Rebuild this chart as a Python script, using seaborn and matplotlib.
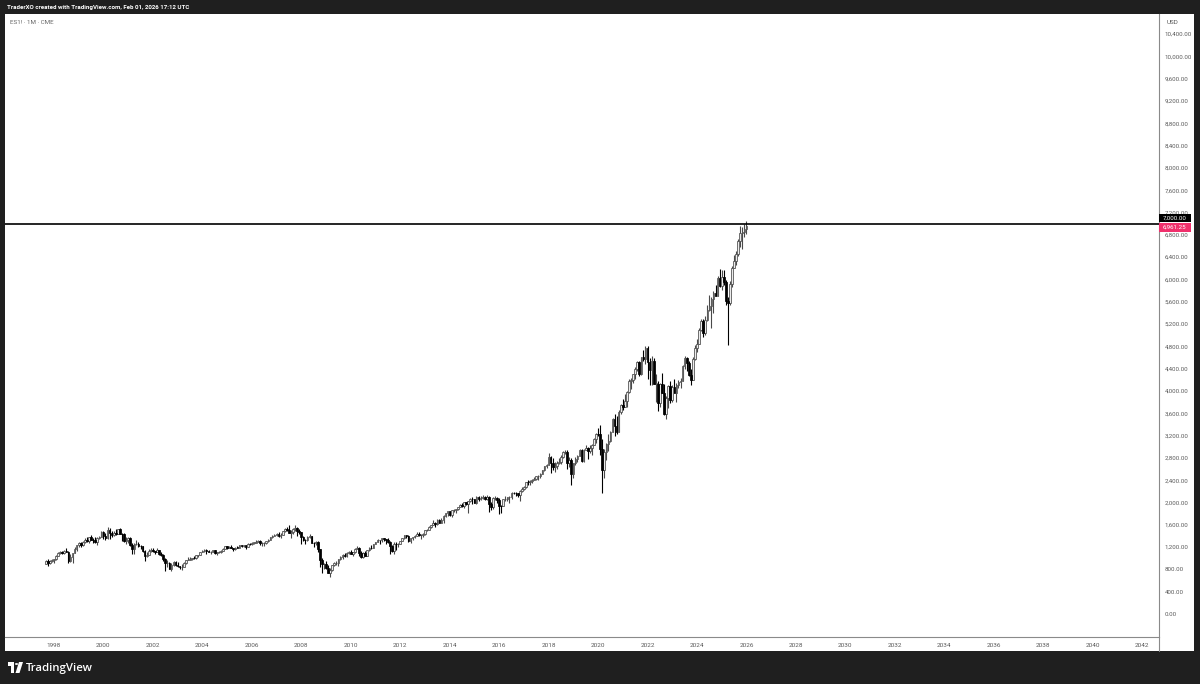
import numpy as np
import pandas as pd
import matplotlib
matplotlib.use("Agg")
import matplotlib.pyplot as plt
import seaborn as sns
from matplotlib.patches import Rectangle, Polygon, Circle
from matplotlib.lines import Line2D

# ---------------- data: ES1! monthly OHLC (approx.) ----------------
start_month = "1997-09"
first_open = 900.0

closes = [
    947, 915, 955, 970,                                                   # 1997 Sep-Dec
    980, 1049, 1102, 1112, 1091, 1134, 1121, 957, 1017, 1099, 1164, 1229,  # 1998
    1280, 1238, 1286, 1335, 1302, 1373, 1329, 1320, 1283, 1363, 1389, 1469,  # 1999
    1394, 1366, 1499, 1452, 1421, 1455, 1431, 1518, 1436, 1429, 1315, 1320,  # 2000
    1366, 1240, 1160, 1249, 1256, 1224, 1211, 1134, 1041, 1060, 1139, 1148,  # 2001
    1130, 1107, 1147, 1077, 1067, 990, 912, 916, 815, 886, 936, 880,         # 2002
    856, 841, 848, 917, 964, 975, 990, 1008, 996, 1051, 1058, 1112,          # 2003
    1131, 1145, 1126, 1107, 1121, 1141, 1102, 1104, 1115, 1130, 1174, 1212,  # 2004
    1181, 1204, 1181, 1157, 1192, 1191, 1234, 1220, 1229, 1207, 1249, 1248,  # 2005
    1280, 1281, 1295, 1311, 1270, 1270, 1277, 1304, 1336, 1378, 1401, 1418,  # 2006
    1438, 1407, 1421, 1482, 1531, 1503, 1455, 1474, 1527, 1549, 1481, 1468,  # 2007
    1379, 1331, 1323, 1386, 1400, 1280, 1267, 1283, 1166, 969, 896, 903,     # 2008
    826, 735, 798, 873, 919, 919, 987, 1021, 1057, 1036, 1096, 1115,         # 2009
    1074, 1104, 1169, 1187, 1089, 1031, 1102, 1049, 1141, 1183, 1181, 1258,  # 2010
    1286, 1327, 1326, 1364, 1345, 1321, 1292, 1219, 1131, 1253, 1247, 1258,  # 2011
    1312, 1366, 1408, 1398, 1310, 1362, 1379, 1407, 1441, 1412, 1416, 1426,  # 2012
    1498, 1515, 1569, 1598, 1631, 1606, 1686, 1633, 1682, 1757, 1806, 1848,  # 2013
    1783, 1859, 1872, 1884, 1924, 1960, 1931, 2003, 1972, 2018, 2068, 2059,  # 2014
    1995, 2105, 2068, 2086, 2107, 2063, 2104, 1972, 1920, 2079, 2080, 2044,  # 2015
    1940, 1932, 2060, 2065, 2097, 2099, 2174, 2171, 2168, 2126, 2199, 2239,  # 2016
    2279, 2364, 2363, 2384, 2412, 2423, 2470, 2472, 2519, 2575, 2648, 2674,  # 2017
    2824, 2714, 2641, 2648, 2705, 2718, 2816, 2902, 2914, 2712, 2760, 2507,  # 2018
    2704, 2784, 2834, 2946, 2752, 2942, 2980, 2926, 2977, 3038, 3141, 3231,  # 2019
    3226, 2954, 2585, 2912, 3044, 3100, 3271, 3500, 3363, 3270, 3622, 3756,  # 2020
    3714, 3811, 3973, 4181, 4204, 4298, 4395, 4523, 4308, 4605, 4567, 4766,  # 2021
    4516, 4374, 4530, 4132, 4132, 3785, 4130, 3955, 3586, 3872, 4080, 3840,  # 2022
    4077, 3970, 4109, 4169, 4180, 4450, 4589, 4508, 4288, 4194, 4568, 4770,  # 2023
    4846, 5096, 5254, 5036, 5278, 5460, 5522, 5648, 5762, 5705, 6032, 5882,  # 2024
    6041, 5955, 5612, 5569, 5912, 6205, 6339, 6460, 6688, 6840, 6849, 6900,  # 2025
    6961.25,                                                              # 2026 Jan
]

highs = [
    960, 987, 960, 985,
    992, 1050, 1110, 1130, 1130, 1145, 1190, 1125, 1070, 1100, 1195, 1245,
    1290, 1285, 1318, 1370, 1380, 1380, 1425, 1360, 1375, 1375, 1405, 1490,
    1495, 1455, 1560, 1540, 1490, 1485, 1530, 1530, 1545, 1445, 1445, 1390,
    1390, 1385, 1265, 1270, 1320, 1295, 1240, 1225, 1140, 1115, 1165, 1180,
    1180, 1135, 1175, 1150, 1110, 1075, 1000, 965, 930, 910, 950, 955,
    935, 865, 895, 925, 965, 1015, 1015, 1010, 1040, 1055, 1063, 1114,
    1155, 1160, 1165, 1150, 1125, 1145, 1145, 1110, 1130, 1140, 1185, 1218,
    1218, 1212, 1230, 1192, 1200, 1220, 1245, 1245, 1245, 1235, 1275, 1280,
    1300, 1300, 1320, 1330, 1335, 1295, 1295, 1310, 1345, 1390, 1410, 1438,
    1450, 1475, 1445, 1495, 1540, 1555, 1590, 1510, 1540, 1590, 1555, 1530,
    1475, 1400, 1345, 1395, 1440, 1405, 1295, 1315, 1305, 1170, 1010, 920,
    945, 875, 830, 880, 930, 955, 995, 1040, 1080, 1100, 1110, 1130,
    1150, 1110, 1175, 1220, 1205, 1130, 1110, 1130, 1150, 1195, 1230, 1262,
    1300, 1345, 1335, 1365, 1372, 1345, 1355, 1305, 1230, 1290, 1290, 1270,
    1315, 1370, 1420, 1420, 1415, 1365, 1390, 1425, 1470, 1465, 1435, 1445,
    1505, 1530, 1570, 1600, 1690, 1650, 1695, 1710, 1730, 1770, 1815, 1850,
    1850, 1865, 1885, 1890, 1925, 1965, 1990, 2005, 2015, 2020, 2075, 2090,
    2065, 2115, 2115, 2125, 2135, 2125, 2130, 2110, 2015, 2090, 2115, 2105,
    2080, 1960, 2060, 2110, 2100, 2120, 2180, 2190, 2185, 2170, 2215, 2280,
    2300, 2370, 2400, 2395, 2420, 2450, 2480, 2490, 2520, 2580, 2655, 2695,
    2880, 2840, 2800, 2720, 2745, 2795, 2850, 2920, 2945, 2950, 2820, 2800,
    2715, 2820, 2860, 2960, 2960, 2965, 3030, 3000, 3030, 3050, 3160, 3250,
    3340, 3395, 3130, 2955, 3070, 3230, 3280, 3510, 3590, 3545, 3660, 3760,
    3860, 3950, 3995, 4215, 4240, 4300, 4425, 4535, 4545, 4610, 4740, 4810,
    4810, 4595, 4635, 4590, 4300, 4180, 4140, 4325, 4120, 3910, 4110, 4180,
    4100, 4210, 4140, 4190, 4230, 4460, 4635, 4610, 4540, 4400, 4600, 4820,
    4930, 5120, 5290, 5290, 5340, 5540, 5720, 5680, 5800, 5900, 6060, 6180,
    6160, 6165, 5990, 5690, 5970, 6240, 6430, 6510, 6730, 6950, 6940, 6990,
    7043,
]

lows = [
    900, 855, 900, 925,
    912, 970, 1040, 1076, 1074, 1074, 1114, 923, 940, 923, 1092, 1130,
    1205, 1200, 1225, 1280, 1290, 1275, 1325, 1270, 1265, 1235, 1340, 1385,
    1345, 1330, 1340, 1345, 1380, 1405, 1415, 1430, 1430, 1305, 1300, 1260,
    1280, 1225, 1080, 1085, 1240, 1205, 1170, 1120, 945, 1030, 1055, 1120,
    1105, 1075, 1105, 1065, 1045, 945, 770, 835, 810, 765, 870, 870,
    840, 805, 785, 845, 900, 960, 960, 960, 990, 995, 1030, 1050,
    1110, 1120, 1085, 1105, 1075, 1115, 1080, 1060, 1100, 1090, 1128, 1170,
    1165, 1180, 1175, 1135, 1145, 1185, 1185, 1200, 1200, 1170, 1205, 1245,
    1245, 1260, 1275, 1290, 1245, 1220, 1225, 1260, 1295, 1330, 1365, 1400,
    1400, 1380, 1365, 1415, 1475, 1490, 1450, 1370, 1440, 1490, 1405, 1430,
    1260, 1310, 1255, 1310, 1370, 1275, 1195, 1245, 1105, 835, 740, 815,
    800, 730, 666, 780, 865, 885, 860, 975, 990, 1020, 1030, 1085,
    1070, 1045, 1100, 1165, 1040, 1010, 1010, 1040, 1040, 1130, 1170, 1175,
    1250, 1285, 1250, 1295, 1315, 1260, 1280, 1075, 1115, 1075, 1155, 1200,
    1255, 1305, 1345, 1355, 1290, 1265, 1325, 1365, 1395, 1400, 1345, 1385,
    1420, 1480, 1505, 1535, 1590, 1555, 1600, 1630, 1630, 1640, 1745, 1765,
    1765, 1735, 1830, 1810, 1860, 1915, 1925, 1900, 1960, 1815, 2005, 1975,
    1985, 1980, 2035, 2040, 2065, 2045, 2040, 1830, 1870, 1890, 2040, 1985,
    1800, 1805, 1935, 2030, 2025, 1990, 2070, 2150, 2110, 2090, 2030, 2185,
    2230, 2265, 2315, 2320, 2345, 2400, 2405, 2410, 2445, 2515, 2560, 2615,
    2675, 2530, 2585, 2550, 2595, 2690, 2695, 2800, 2865, 2605, 2630, 2315,
    2440, 2680, 2725, 2835, 2730, 2730, 2945, 2775, 2890, 2855, 3030, 3070,
    3190, 2850, 2174, 2440, 2760, 2920, 3080, 3260, 3200, 3225, 3260, 3590,
    3660, 3710, 3720, 3965, 4030, 4145, 4220, 4360, 4270, 4280, 4530, 4490,
    4215, 4100, 4115, 4120, 3805, 3640, 3720, 3955, 3575, 3500, 3700, 3780,
    3800, 3960, 3810, 4050, 4050, 4170, 4400, 4360, 4260, 4105, 4190, 4550,
    4700, 4840, 5070, 4970, 5000, 5250, 5430, 5120, 5400, 5700, 5700, 5870,
    5810, 5900, 5540, 4832, 5540, 5870, 6200, 6250, 6420, 6580, 6550, 6760,
    6820,
]

level_price = 7000.00
last_price = 6961.25
y_ticks = list(range(0, 10401, 400))
x_tick_years = list(range(1998, 2043, 2))

header_text = "TraderXO created with TradingView.com, Feb 01, 2026 17:12 UTC"
symbol_text = "ES1! \u00b7 1M \u00b7 CME"

# ---------------- build frame ----------------
months = pd.period_range(start=start_month, periods=len(closes), freq="M")
df = pd.DataFrame({
    "t": months.year + (months.month - 1) / 12.0,
    "close": closes, "high": highs, "low": lows,
})
df["open"] = [first_open] + closes[:-1]
df["up"] = df["close"] >= df["open"]

# ---------------- figure ----------------
sns.set_theme(style="white")
plt.rcParams["font.family"] = ["Roboto", "DejaVu Sans"]

W, H = 1200, 684
fig = plt.figure(figsize=(W / 100, H / 100), dpi=100)
fig.patch.set_facecolor("#1f1f1f")

def fx(px):
    return px / W

def fy(py):
    return 1 - py / H

# white panel (behind axes)
fig.patches.append(Rectangle((fx(5), fy(651)), fx(1194) - fx(5), fy(14) - fy(651),
                             transform=fig.transFigure, facecolor="white",
                             edgecolor="none", zorder=-5))

ax = fig.add_axes([fx(5), fy(637), fx(1159) - fx(5), fy(14) - fy(637)])
ax.set_zorder(1)
ax.set_facecolor("white")

ax.set_xlim(1996.02, 2042.68)
ax.set_ylim(-412, 10759)

up = df[df["up"]]
dn = df[~df["up"]]
bw = 0.065

# wicks
ax.vlines(up["t"], up["low"], up["high"], color="#4a4a4a", linewidth=0.8, zorder=2)
ax.vlines(dn["t"], dn["low"], dn["high"], color="#000000", linewidth=0.8, zorder=2)
# bodies
ax.bar(up["t"], (up["close"] - up["open"]).clip(lower=4), bottom=up["open"], width=bw,
       color="#ececec", edgecolor="#4a4a4a", linewidth=0.55, zorder=3)
ax.bar(dn["t"], (dn["open"] - dn["close"]).clip(lower=4), bottom=dn["close"], width=bw,
       color="#000000", edgecolor="#000000", linewidth=0.55, zorder=3)

# horizontal level
ax.axhline(level_price, color="black", linewidth=1.2, zorder=4)

# axes styling
for s in ["top", "left"]:
    ax.spines[s].set_visible(False)
ax.spines["right"].set_color("#8a8a8a")
ax.spines["bottom"].set_color("#8a8a8a")
ax.spines["right"].set_linewidth(0.8)
ax.spines["bottom"].set_linewidth(0.8)
ax.grid(False)

ax.yaxis.tick_right()
ax.set_yticks(y_ticks)
ax.set_yticklabels([f"{v:,.2f}" for v in y_ticks])
ax.tick_params(axis="y", length=0, pad=4, labelsize=4.4, labelcolor="#5a5a5a")
for lbl in ax.get_yticklabels():
    lbl.set_horizontalalignment("left")

ax.set_xticks(x_tick_years)
ax.set_xticklabels([str(y) for y in x_tick_years])
ax.tick_params(axis="x", length=0, pad=4, labelsize=4.6, labelcolor="#5a5a5a")

# extra separator down to panel bottom
fig.lines.append(Line2D([fx(1159), fx(1159)], [fy(637), fy(651)], transform=fig.transFigure,
                        color="#8a8a8a", linewidth=0.8))

# USD label
fig.text(fx(1167), fy(23), "USD", fontsize=4.5, color="#555555", va="center", ha="left")

# price labels
fig.patches.append(Rectangle((fx(1159), fy(222.5)), fx(1191) - fx(1159), fy(214) - fy(222.5),
                             transform=fig.transFigure, facecolor="black", edgecolor="none", zorder=5))
fig.text(fx(1163), fy(218.3), f"{level_price:,.2f}", fontsize=4.4, color="white",
         va="center", ha="left", zorder=6)
fig.patches.append(Rectangle((fx(1159), fy(231.5)), fx(1191) - fx(1159), fy(223) - fy(231.5),
                             transform=fig.transFigure, facecolor="#f0306c", edgecolor="none", zorder=5))
fig.text(fx(1163), fy(227.3), f"{last_price:,.2f}", fontsize=4.4, color="white",
         va="center", ha="left", zorder=6)

# header texts
fig.text(fx(7), fy(7), header_text, fontsize=4.45, color="white", fontweight="bold",
         va="center", ha="left")
fig.text(fx(10), fy(22), symbol_text, fontsize=4.5, color="#666666", va="center", ha="left")

# footer logo
logo_c = "white"
fig.patches.append(Rectangle((fx(8), fy(666)), fx(14) - fx(8), fy(662) - fy(666),
                             transform=fig.transFigure, facecolor=logo_c, edgecolor="none"))
fig.patches.append(Rectangle((fx(11), fy(673)), fx(14) - fx(11), fy(662) - fy(673),
                             transform=fig.transFigure, facecolor=logo_c, edgecolor="none"))
fig.patches.append(Circle((fx(16.5), fy(664)), 1.6 / W, transform=fig.transFigure,
                          facecolor=logo_c, edgecolor="none"))
fig.patches.append(Polygon([(fx(19), fy(662)), (fx(23), fy(662)), (fx(19.5), fy(673)), (fx(15.5), fy(673))],
                           closed=True, transform=fig.transFigure, facecolor=logo_c, edgecolor="none"))
fig.text(fx(26), fy(668), "TradingView", fontsize=8.2, color="white", fontweight="semibold",
         va="center", ha="left", family=["Open Sans", "DejaVu Sans"])

fig.savefig("out.png", dpi=100, facecolor=fig.get_facecolor())
